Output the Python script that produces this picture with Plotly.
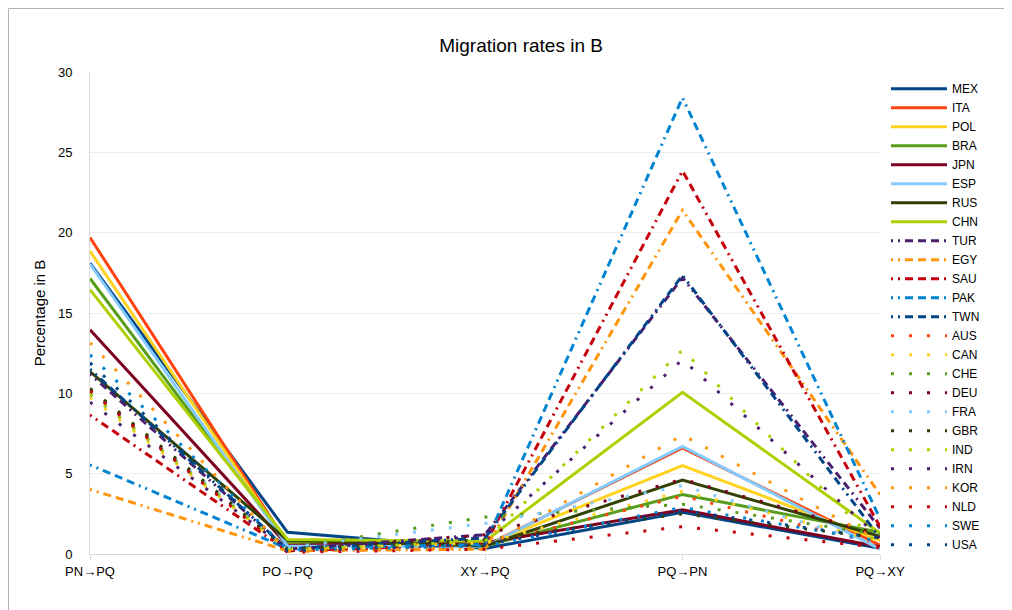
import plotly.graph_objects as go

categories = ["PN→PQ", "PO→PQ", "XY→PQ", "PQ→PN", "PQ→XY"]

series_names = ["MEX", "ITA", "POL", "BRA", "JPN", "ESP", "RUS", "CHN",
                "TUR", "EGY", "SAU", "PAK", "TWN",
                "AUS", "CAN", "CHE", "DEU", "FRA", "GBR", "IND", "IRN", "KOR", "NLD", "SWE", "USA"]

MEX = [18.1, 1.35, 0.35, 2.6, 0.35]
ITA = [19.7, 0.65, 0.5, 6.6, 0.55]
POL = [18.85, 0.6, 0.55, 5.5, 0.85]
BRA = [17.15, 0.75, 0.5, 3.7, 1.35]
JPN = [13.95, 0.55, 0.7, 2.75, 0.45]
ESP = [18.05, 0.5, 0.45, 6.7, 0.3]
RUS = [11.35, 0.85, 0.5, 4.6, 1.1]
CHN = [16.45, 0.9, 0.8, 10.06, 1.3]
TUR = [11.2, 0.3, 1.2, 17.2, 1.6]
EGY = [4.02, 0.2, 0.3, 21.4, 3.7]
SAU = [8.65, 0.2, 0.6, 23.85, 1.7]
PAK = [5.55, 0.35, 0.6, 28.4, 2.2]
TWN = [11.5, 0.3, 1.0, 17.35, 1.0]
AUS = [10.25, 0.25, 0.6, 3.6, 0.6]
CAN = [9.75, 0.3, 0.7, 3.9, 0.8]
CHE = [9.95, 0.35, 2.3, 3.1, 1.2]
DEU = [10.2, 0.2, 1.2, 4.65, 1.2]
FRA = [10.1, 0.4, 1.9, 4.25, 0.5]
GBR = [10.3, 0.3, 0.9, 2.5, 1.0]
IND = [10.0, 0.25, 0.8, 12.7, 0.5]
IRN = [9.45, 0.3, 1.1, 12.1, 1.0]
KOR = [13.15, 0.15, 0.4, 7.4, 0.8]
NLD = [10.15, 0.1, 0.3, 1.7, 0.4]
SWE = [12.4, 0.25, 0.5, 2.9, 0.8]
USA = [11.9, 0.2, 0.6, 2.7, 1.0]

series_values = [MEX, ITA, POL, BRA, JPN, ESP, RUS, CHN, TUR, EGY, SAU, PAK, TWN,
                 AUS, CAN, CHE, DEU, FRA, GBR, IND, IRN, KOR, NLD, SWE, USA]

palette = ["#004586", "#ff420e", "#ffd320", "#579d1c", "#7e0021", "#83caff",
           "#314004", "#aecf00", "#4b1f6f", "#ff950e", "#c5000b", "#0084d1"]

solid = "solid"
dashdot = "2px,5px,2px,5px,8px,5px,8px,5px,8px,5px"
dotted = "3px,15px"

fig = go.Figure()
for i, (name, vals) in enumerate(zip(series_names, series_values)):
    if i < 8:
        color = palette[i]
        dash = solid
    elif i < 13:
        color = palette[i % 12]
        dash = dashdot
    else:
        color = palette[(i - 13 + 1) % 12]
        dash = dotted
    fig.add_trace(go.Scatter(
        x=categories, y=vals, name=name, mode="lines",
        line=dict(color=color, width=3, dash=dash),
    ))

L, R, T, B = 82, 140, 64, 64
PW, PH = 1012 - L - R, 610 - T - B

fig.update_layout(
    width=1012, height=610,
    margin=dict(l=L, r=R, t=T, b=B, autoexpand=False),
    paper_bgcolor="white", plot_bgcolor="white",
    font=dict(family="Liberation Sans, Arial, sans-serif", size=13, color="#000000"),
    title=dict(text="Migration rates in B", x=0.507, xref="container",
               y=1 - 37 / 610, yref="container", yanchor="middle",
               font=dict(size=19, color="#000000")),
    legend=dict(x=(878 - L) / PW, xanchor="left",
                y=1 - 66.2 / 610, yref="container", yanchor="top",
                font=dict(size=12), itemwidth=56, tracegroupgap=0, maxheight=600,
                bgcolor="rgba(0,0,0,0)"),
    showlegend=True,
)
fig.update_xaxes(
    type="category", range=[0, 4], showgrid=False,
    showline=True, linecolor="#d9d9d9", linewidth=1,
    ticks="outside", ticklen=5, tickcolor="#d9d9d9",
    tickfont=dict(size=13), zeroline=False,
)
fig.update_yaxes(
    range=[0, 30], dtick=5, showgrid=True, gridcolor="#eeeeee", gridwidth=1,
    showline=True, linecolor="#d9d9d9", linewidth=1,
    zeroline=False, tickfont=dict(size=13), ticklabelstandoff=14,
    title=dict(text="Percentage in B", font=dict(size=15), standoff=8),
)
fig.add_shape(type="rect", xref="paper", yref="paper",
              x0=(0.5 - L) / PW, x1=(1011.5 - L) / PW,
              y0=(610 - B - 609.5) / PH, y1=(610 - B - 0.5) / PH,
              line=dict(color="#b3b3b3", width=1), fillcolor="rgba(0,0,0,0)",
              layer="below")

fig.write_html("out.html")
